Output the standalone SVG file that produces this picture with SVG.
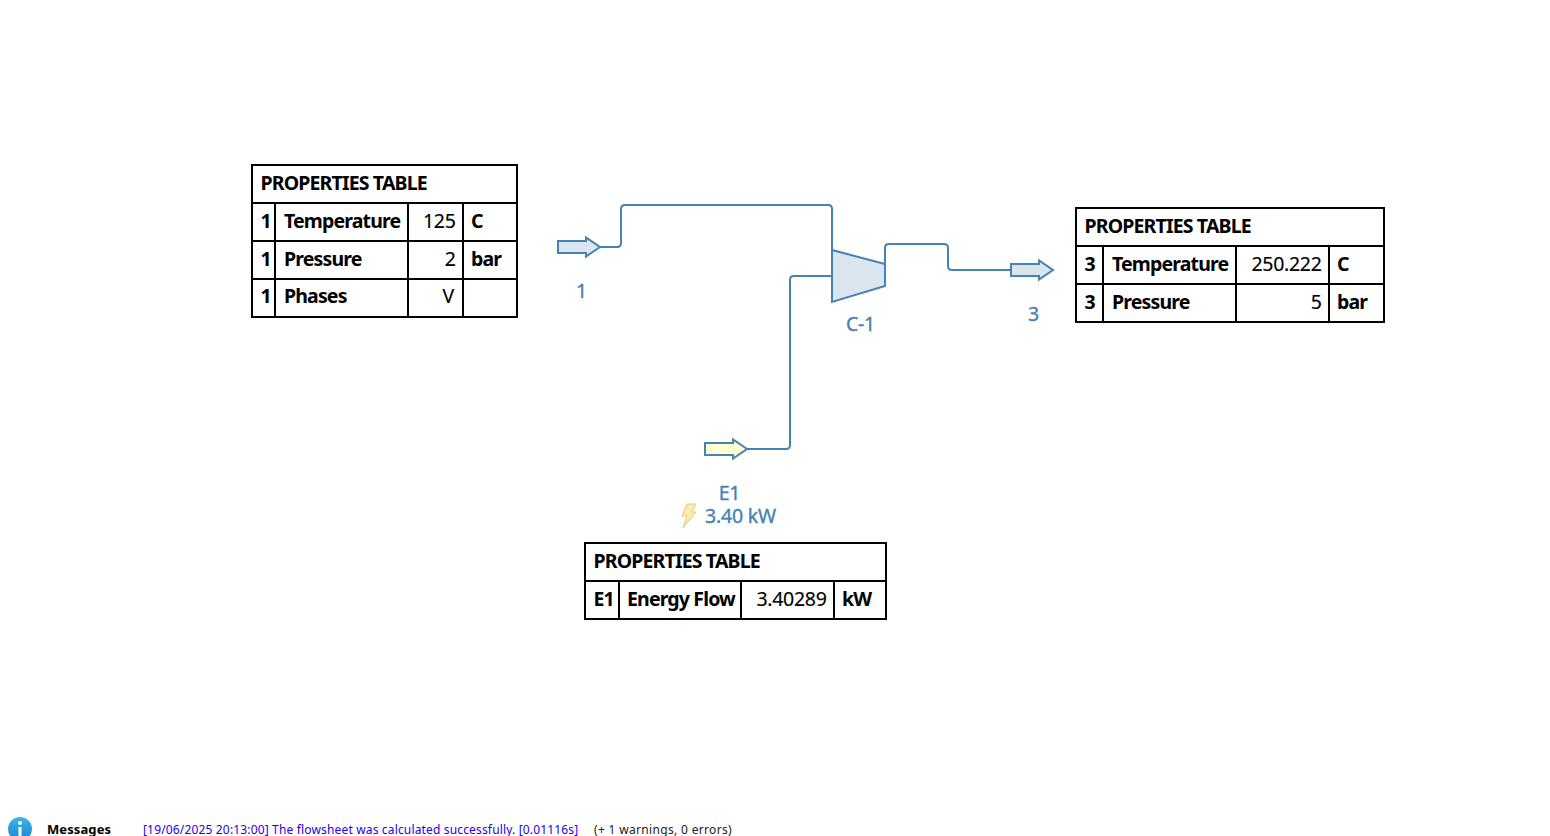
<svg xmlns="http://www.w3.org/2000/svg" width="1550" height="836" viewBox="0 0 1550 836">
<defs>
<linearGradient id="info" x1="0" y1="0" x2="0" y2="1"><stop offset="0" stop-color="#3fb4ea"/><stop offset="1" stop-color="#1487cf"/></linearGradient>
</defs>
<style>
.g{fill:none;stroke:#000;stroke-width:2}
.t{font-family:"Noto Sans","Open Sans",sans-serif;font-size:19.5px;fill:#000;letter-spacing:-.3px;stroke:#000;stroke-width:.15px}
.b{font-weight:700;letter-spacing:-.85px;stroke:none}
.r{text-anchor:end}
.l{font-family:"Noto Sans","Open Sans",sans-serif;font-size:19.5px;fill:#4682b4;stroke:#4682b4;stroke-width:.35px;text-anchor:middle;letter-spacing:-.2px}
.c{fill:none;stroke:#4682b4;stroke-width:2}
.s{stroke:#4682b4;stroke-width:2;fill:#dae5f0}
.m{font-family:"Noto Sans",sans-serif;font-size:12px}
</style>
<rect width="1550" height="836" fill="#fff"/>
<g id="connectors">
<path class="c" d="M600 247H617Q621 247 621 243V209Q621 205 625 205H828Q832 205 832 209V250"/>
<path class="c" d="M747 449H786Q790 449 790 445V280Q790 276 794 276H832"/>
<path class="c" d="M885 263V248Q885 244 889 244H944Q948 244 948 248V266Q948 270 952 270H1011"/>
</g>
<g id="stream-1">
<path class="s" d="M558 241H586V237.500L600 247L586 256.500V253H558Z"/>
<text class="l" x="581.500" y="298">1</text>
</g>
<g id="compressor-C-1">
<path class="s" d="M832 250L885 264V286L832 302Z"/>
<text class="l" x="860.500" y="331">C-1</text>
</g>
<g id="stream-3">
<path class="s" d="M1011 264H1039V260.500L1053 270L1039 279.500V276H1011Z"/>
<text class="l" x="1033.500" y="321">3</text>
</g>
<g id="energy-E1">
<path class="s" style="fill:#ffffd2" d="M705 443H733V439.500L747 449L733 458.500V455H705Z"/>
<text class="l" x="729.500" y="500">E1</text>
<path d="M687 504H696L692 512H696L683 528L687 516H682Z" fill="#fde9a8" stroke="#e8c987" stroke-width="1"/>
<text class="l" x="740.500" y="523">3.40 kW</text>
</g>
<g id="table-1">
<rect class="g" x="252" y="165" width="265" height="152"/>
<path class="g" d="M252 203H517M252 241H517M252 279H517M275 203V317M408 203V317M463 203V317"/>
<text class="t b" x="260.500" y="190">PROPERTIES TABLE</text>
<text class="t b" x="260.500" y="228">1</text><text class="t b" x="284" y="228">Temperature</text><text class="t r" x="455.500" y="228">125</text><text class="t b" x="471" y="228">C</text>
<text class="t b" x="260.500" y="266">1</text><text class="t b" x="284" y="266">Pressure</text><text class="t r" x="455.500" y="266">2</text><text class="t b" x="471" y="266">bar</text>
<text class="t b" x="260.500" y="303">1</text><text class="t b" x="284" y="303">Phases</text><text class="t r" x="454" y="303">V</text>
</g>
<g id="table-3">
<rect class="g" x="1076" y="208" width="308" height="114"/>
<path class="g" d="M1076 246H1384M1076 284H1384M1103 246V322M1236 246V322M1329 246V322"/>
<text class="t b" x="1084.500" y="233">PROPERTIES TABLE</text>
<text class="t b" x="1084.500" y="271">3</text><text class="t b" x="1112" y="271">Temperature</text><text class="t r" x="1321.500" y="271">250.222</text><text class="t b" x="1337" y="271">C</text>
<text class="t b" x="1084.500" y="309">3</text><text class="t b" x="1112" y="309">Pressure</text><text class="t r" x="1321.500" y="309">5</text><text class="t b" x="1337" y="309">bar</text>
</g>
<g id="table-E1">
<rect class="g" x="585" y="543" width="301" height="76"/>
<path class="g" d="M585 581H886M619 581V619M741 581V619M834 581V619"/>
<text class="t b" x="593.500" y="568">PROPERTIES TABLE</text>
<text class="t b" x="593.500" y="606">E1</text><text class="t b" x="627" y="606">Energy Flow</text><text class="t r" x="826.500" y="606">3.40289</text><text class="t b" x="842" y="606">kW</text>
</g>
<g id="messages">
<circle cx="20" cy="829" r="12" fill="url(#info)"/>
<circle cx="20" cy="823" r="2" fill="#fff"/>
<rect x="18.500" y="827" width="3" height="9" fill="#fff"/>
<text class="m" x="47" y="834" font-weight="700" fill="#000" style="font-size:13px;letter-spacing:.1px">Messages</text>
<text class="m" x="143" y="834" fill="#2200ee" style="letter-spacing:.16px">[19/06/2025 20:13:00] The flowsheet was calculated successfully. [0.01116s]</text>
<text class="m" x="594" y="834" fill="#222" style="letter-spacing:.33px">(+ 1 warnings, 0 errors)</text>
</g>
</svg>
